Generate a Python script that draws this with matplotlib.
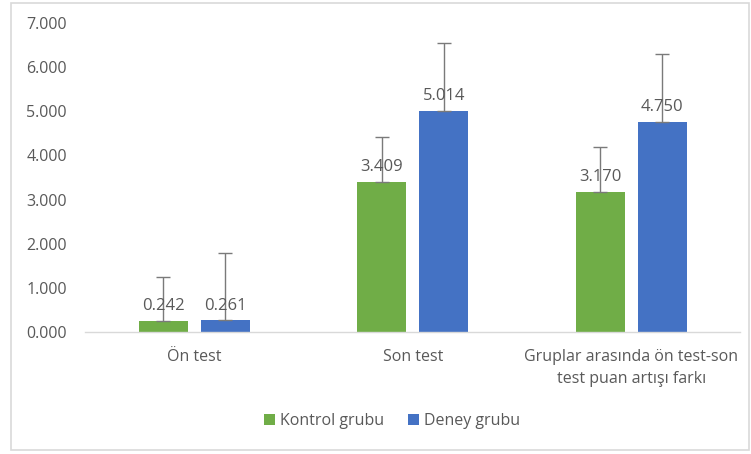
import numpy as np
import matplotlib
matplotlib.use("Agg")
import matplotlib.pyplot as plt
from matplotlib.patches import Rectangle

categories = ["Ön test", "Son test", "Gruplar arasında ön test-son\ntest puan artışı farkı"]
kontrol = [0.242, 3.409, 3.170]
deney = [0.261, 5.014, 4.750]
kontrol_err = [1.01, 1.00, 1.01]
deney_err = [1.54, 1.53, 1.54]
yticks = [0, 1, 2, 3, 4, 5, 6, 7]

plt.rcParams['font.family'] = ['Open Sans', 'DejaVu Sans']

green = "#70AD47"
blue = "#4472C4"
gray = "#595959"

fig = plt.figure(figsize=(7.51, 4.54), dpi=100)
fig.patches.append(Rectangle((0.014, 0.008), 0.984, 0.986, transform=fig.transFigure,
                             fill=False, edgecolor="#d9d9d9", linewidth=1.2))
ax = fig.add_axes([0.1132, 0.2687, 0.8728, 0.6806])

x = np.arange(len(categories))
w = 0.224
off = 0.142
ecol = "#7a7a7a"
ax.bar(x - off, kontrol, w, color=green, label="Kontrol grubu", zorder=2)
ax.bar(x + off, deney, w, color=blue, label="Deney grubu", zorder=2)
ax.errorbar(x - off, kontrol, yerr=[np.zeros(3), kontrol_err], fmt="none",
            ecolor=ecol, elinewidth=1, capsize=5, capthick=1, zorder=3)
ax.errorbar(x + off, deney, yerr=[np.zeros(3), deney_err], fmt="none",
            ecolor=ecol, elinewidth=1, capsize=5, capthick=1, zorder=3)

for xs, vals in [(x - off, kontrol), (x + off, deney)]:
    for xi, v in zip(xs, vals):
        ax.annotate(f"{v:.3f}", (xi, v), xytext=(0, 5), textcoords="offset points",
                    ha="center", va="bottom", fontsize=12, color=gray, zorder=4)

ax.set_xlim(-0.5, 2.5)
ax.set_ylim(0, 7)
ax.set_yticks(yticks)
ax.set_yticklabels([f"{t:.3f}" for t in yticks], fontsize=11.5, color=gray)
ax.set_xticks(x)
ax.set_xticklabels(categories, fontsize=11.5, color=gray, linespacing=1.5)
ax.tick_params(axis="both", length=0)
ax.tick_params(axis="x", pad=12)
ax.tick_params(axis="y", pad=13)
for s in ["top", "right", "left"]:
    ax.spines[s].set_visible(False)
ax.spines["bottom"].set_color("#d9d9d9")
ax.spines["bottom"].set_linewidth(1)

leg = fig.legend(loc="center", bbox_to_anchor=(0.522, 0.073), ncol=2, frameon=False,
                 fontsize=11.5, handlelength=0.7, handleheight=0.7, handletextpad=0.3,
                 columnspacing=1.5)
for t in leg.get_texts():
    t.set_color(gray)

fig.savefig("out.png", dpi=100)
